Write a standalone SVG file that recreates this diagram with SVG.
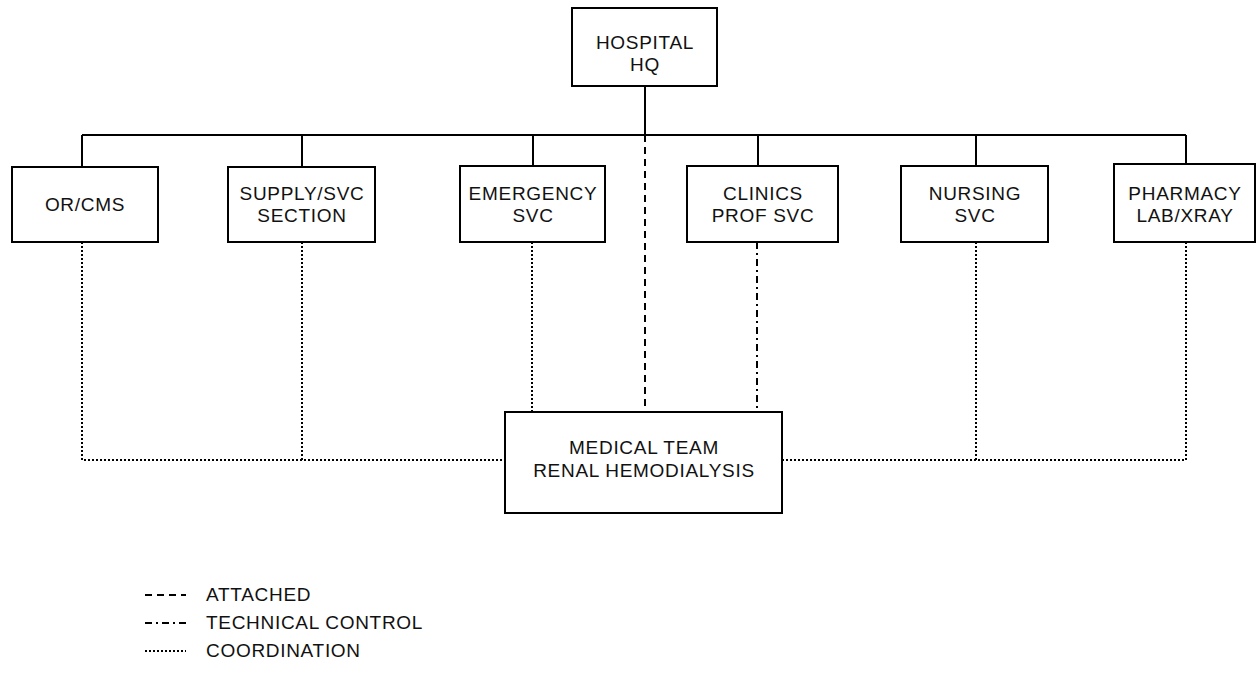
<svg xmlns="http://www.w3.org/2000/svg" width="1256" height="679" viewBox="0 0 1256 679">
<style>
  .box { fill: #ffffff; stroke: #000; stroke-width: 2; }
  .lbl { font-family: "Liberation Sans", Arial, sans-serif; font-size: 19px; letter-spacing: 0.7px; fill: #111; text-anchor: middle; }
  .leg { font-family: "Liberation Sans", Arial, sans-serif; font-size: 19px; letter-spacing: 0.7px; fill: #111; }
  .solid { stroke: #000; stroke-width: 2; fill: none; }
  .attached { stroke: #000; stroke-width: 2; fill: none; stroke-dasharray: 7 5; }
  .tech { stroke: #000; stroke-width: 2; fill: none; stroke-dasharray: 7 4 2 4; }
  .coord { stroke: #000; stroke-width: 2; fill: none; stroke-dasharray: 2 2; }
</style>
<rect width="1256" height="679" fill="#fff"/>
<g id="connectors">
  <path class="solid" d="M645 86 V135 M82 135 H1186 M82 135 V167 M302 135 V167 M533 135 V166 M758 135 V166 M976 135 V166 M1186 135 V164"/>
  <path class="attached" d="M645 135 V412"/>
  <path class="tech" d="M757 242 V412"/>
  <path class="coord" d="M82 242 V460 H505 M302 242 V460 M532 242 V412 M976 242 V460 M1186 242 V460 H782"/>
</g>
<g id="hq">
  <rect class="box" x="572" y="8" width="145" height="78"/>
  <text class="lbl" x="645" y="49">HOSPITAL</text>
  <text class="lbl" x="645" y="71">HQ</text>
</g>
<g id="orcms">
  <rect class="box" x="12" y="167" width="146" height="75"/>
  <text class="lbl" x="85" y="211">OR/CMS</text>
</g>
<g id="supply">
  <rect class="box" x="228" y="167" width="147" height="75"/>
  <text class="lbl" x="302" y="200">SUPPLY/SVC</text>
  <text class="lbl" x="302" y="222">SECTION</text>
</g>
<g id="emergency">
  <rect class="box" x="460" y="166" width="145" height="76"/>
  <text class="lbl" x="533" y="200">EMERGENCY</text>
  <text class="lbl" x="533" y="222">SVC</text>
</g>
<g id="clinics">
  <rect class="box" x="687" y="166" width="151" height="76"/>
  <text class="lbl" x="763" y="200">CLINICS</text>
  <text class="lbl" x="763" y="222">PROF SVC</text>
</g>
<g id="nursing">
  <rect class="box" x="901" y="166" width="147" height="76"/>
  <text class="lbl" x="975" y="200">NURSING</text>
  <text class="lbl" x="975" y="222">SVC</text>
</g>
<g id="pharmacy">
  <rect class="box" x="1114" y="164" width="141" height="78"/>
  <text class="lbl" x="1185" y="200">PHARMACY</text>
  <text class="lbl" x="1185" y="222">LAB/XRAY</text>
</g>
<g id="medical">
  <rect class="box" x="505" y="412" width="277" height="101"/>
  <text class="lbl" x="644" y="454">MEDICAL TEAM</text>
  <text class="lbl" x="644" y="477">RENAL HEMODIALYSIS</text>
</g>
<g id="legend">
  <line class="attached" x1="145" y1="595" x2="186" y2="595" stroke-dasharray="5 2.5"/>
  <line class="tech" x1="145" y1="623" x2="186" y2="623" stroke-dasharray="6 3 2 3"/>
  <line class="coord" x1="145" y1="651" x2="186" y2="651" stroke-width="1.5" stroke-dasharray="1.5 1.5"/>
  <text class="leg" x="206" y="601">ATTACHED</text>
  <text class="leg" x="206" y="629">TECHNICAL CONTROL</text>
  <text class="leg" x="206" y="657">COORDINATION</text>
</g>
</svg>
